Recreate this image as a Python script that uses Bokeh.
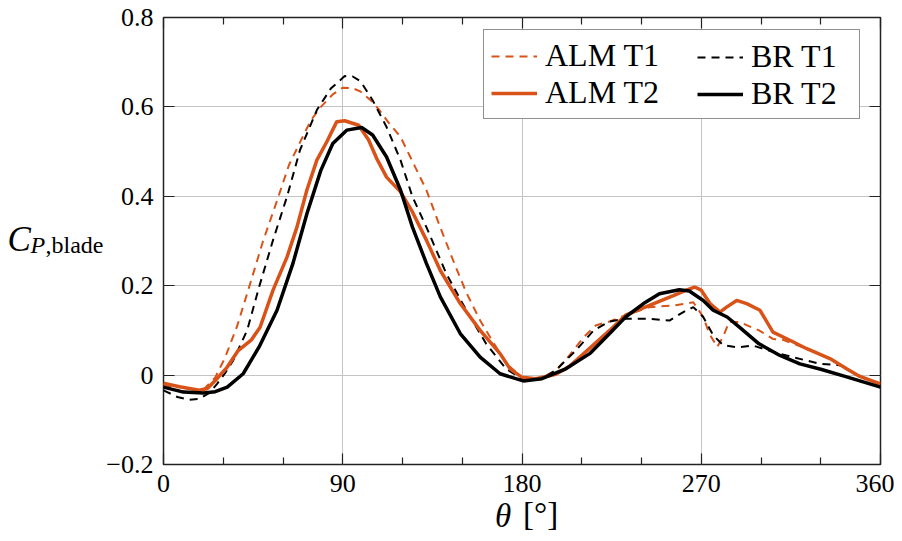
from bokeh.plotting import figure
from bokeh.models import FixedTicker, LinearAxis, Label, Legend, LegendItem, Range1d
from bokeh.embed import file_html
from bokeh.resources import INLINE

# ---------------- data ----------------
alm_t1_theta = [0, 8, 15, 20, 26, 31, 37, 43, 50, 57, 63, 69, 74, 79, 85, 90, 95, 99, 104, 108,
                113, 119, 125, 132, 139, 146, 152, 159, 166, 172, 180, 188, 197, 204, 211, 217,
                224, 232, 244, 257, 266, 271, 274, 278, 281, 284, 289, 299, 306, 311, 323, 334,
                344, 353, 360]
alm_t1 = [-0.020, -0.035, -0.040, -0.033, -0.005, 0.040, 0.110, 0.197, 0.300, 0.390, 0.470,
          0.525, 0.570, 0.600, 0.628, 0.643, 0.642, 0.634, 0.615, 0.595, 0.565, 0.533, 0.478,
          0.414, 0.330, 0.250, 0.185, 0.122, 0.070, 0.026, -0.005, -0.010, 0.010, 0.045, 0.085,
          0.111, 0.120, 0.134, 0.152, 0.156, 0.163, 0.130, 0.093, 0.063, 0.086, 0.119, 0.119,
          0.100, 0.081, 0.079, 0.059, 0.037, 0.010, -0.008, -0.021]

alm_t2_theta = [0, 8, 18, 22, 26, 32, 37.5, 44, 48.5, 55, 62, 67, 72, 77, 82, 87, 91, 98, 103,
                107, 112, 119, 125, 132, 139, 149, 159, 169, 174, 180, 187, 197, 204, 211, 224,
                232, 244, 256, 262.5, 266.7, 270, 274.4, 279.4, 282.7, 287.8, 292.8, 299.5, 306,
                314.5, 323, 334.6, 343, 349.6, 360]
alm_t2 = [-0.018, -0.026, -0.034, -0.030, -0.012, 0.018, 0.055, 0.078, 0.107, 0.190, 0.264,
          0.331, 0.414, 0.481, 0.522, 0.567, 0.569, 0.559, 0.526, 0.485, 0.443, 0.410, 0.365,
          0.302, 0.234, 0.160, 0.100, 0.048, 0.014, -0.005, -0.008, 0.002, 0.020, 0.048, 0.100,
          0.134, 0.156, 0.178, 0.190, 0.197, 0.190, 0.160, 0.141, 0.152, 0.167, 0.160, 0.145,
          0.096, 0.078, 0.059, 0.037, 0.014, -0.003, -0.020]

br_t1_theta = [0, 7, 13, 18, 23, 27, 31, 35, 42, 48, 55, 62, 68.5, 77, 84, 91, 95, 99, 105, 112,
               119, 125, 132, 142, 152, 162, 172, 180, 190, 197, 207, 216, 224, 232, 244, 254,
               261, 266, 271, 276, 281, 288, 296, 306, 316, 330, 340, 348, 360]
br_t1 = [-0.034, -0.049, -0.055, -0.053, -0.040, -0.019, 0.005, 0.033, 0.100, 0.197, 0.302,
         0.399, 0.503, 0.593, 0.641, 0.669, 0.668, 0.657, 0.615, 0.555, 0.481, 0.399, 0.331,
         0.227, 0.145, 0.070, 0.014, -0.008, -0.008, 0.011, 0.055, 0.100, 0.120, 0.126, 0.126,
         0.122, 0.141, 0.152, 0.130, 0.089, 0.067, 0.062, 0.066, 0.052, 0.040, 0.025, 0.022,
         0.000, -0.020]

br_t2_theta = [0, 10, 20, 26, 32, 40, 48, 57, 65, 72, 79, 85, 92, 99.5, 105, 112, 119, 125, 132,
               139, 149, 159, 169, 180.6, 190, 202, 214, 224, 232, 241, 249, 259, 264, 271, 276,
               283, 289, 299, 309.5, 319.5, 330, 343, 360]
br_t2 = [-0.027, -0.038, -0.040, -0.037, -0.027, 0.003, 0.063, 0.145, 0.250, 0.361, 0.458,
         0.518, 0.548, 0.554, 0.537, 0.488, 0.414, 0.331, 0.250, 0.175, 0.093, 0.040, 0.003,
         -0.013, -0.008, 0.014, 0.048, 0.093, 0.130, 0.160, 0.182, 0.191, 0.188, 0.167, 0.145,
         0.130, 0.108, 0.070, 0.044, 0.025, 0.013, -0.004, -0.027]

x_ticks = [0, 90, 180, 270, 360]
x_minor_ticks = [30, 60, 120, 150, 210, 240, 300, 330]
y_ticks = [-0.2, 0.0, 0.2, 0.4, 0.6, 0.8]
y_tick_labels = ["\u22120.2", "0", "0.2", "0.4", "0.6", "0.8"]

series_names = ["ALM T1", "ALM T2", "BR T1", "BR T2"]

# ---------------- style ----------------
ORANGE = "#D95319"
FONT = "Liberation Serif"
TICK_FS = "26px"

p = figure(frame_width=717, frame_height=447,
           min_border_left=163, min_border_right=14, min_border_top=17, min_border_bottom=69,
           x_range=Range1d(0, 360), y_range=Range1d(-0.2, 0.8),
           output_backend="svg", toolbar_location=None)
p.background_fill_color = "white"
p.border_fill_color = "white"
p.outline_line_color = "#222222"
p.outline_line_width = 1.5

xt = FixedTicker(ticks=x_ticks, minor_ticks=x_minor_ticks)
yt = FixedTicker(ticks=y_ticks, minor_ticks=[])

def style_axis(ax, ticker, labels=True):
    ax.ticker = ticker
    ax.axis_line_color = None
    ax.major_tick_in = 11
    ax.major_tick_out = 0
    ax.minor_tick_in = 7
    ax.minor_tick_out = 0
    ax.major_tick_line_color = "#222222"
    ax.minor_tick_line_color = "#222222"
    ax.major_tick_line_width = 1.2
    ax.minor_tick_line_width = 1.2
    if labels:
        ax.major_label_text_font = FONT
        ax.major_label_text_font_size = TICK_FS
        ax.major_label_text_color = "black"
        ax.major_label_standoff = 10
    else:
        ax.major_label_text_font_size = "1px"
        ax.major_label_text_color = None
        ax.major_label_standoff = 0

style_axis(p.xaxis[0], xt)
style_axis(p.yaxis[0], yt)
p.yaxis[0].major_label_overrides = {t: s for t, s in zip(y_ticks, y_tick_labels)}
p.xaxis[0].major_label_overrides = {t: str(t) for t in x_ticks}

top_ax = LinearAxis()
style_axis(top_ax, xt, labels=False)
p.add_layout(top_ax, "above")
right_ax = LinearAxis()
style_axis(right_ax, yt, labels=False)
p.add_layout(right_ax, "right")

p.xgrid.ticker = xt
p.ygrid.ticker = yt
p.xgrid.grid_line_color = "#c4c4c4"
p.ygrid.grid_line_color = "#c4c4c4"
p.xgrid.grid_line_width = 1
p.ygrid.grid_line_width = 1

r_alm1 = p.line(alm_t1_theta, alm_t1, line_color=ORANGE, line_width=2, line_dash="8 6")
r_br1 = p.line(br_t1_theta, br_t1, line_color="black", line_width=2, line_dash="8 6")
r_alm2 = p.line(alm_t2_theta, alm_t2, line_color=ORANGE, line_width=3.5)
r_br2 = p.line(br_t2_theta, br_t2, line_color="black", line_width=3.5)

def make_legend(items, loc, label_width, boxed):
    lg = Legend(items=items, location=loc)
    lg.label_text_font = FONT
    lg.label_text_font_size = "32px"
    lg.label_text_color = "black"
    lg.label_text_line_height = 1.0
    lg.glyph_width = 46
    lg.glyph_height = 20
    lg.label_standoff = 8
    lg.label_width = label_width
    lg.label_height = 30
    lg.padding = 7
    lg.spacing = 0
    lg.margin = 0
    if boxed:
        lg.border_line_color = "#222222"
        lg.border_line_width = 1.5
        lg.background_fill_color = "white"
        lg.background_fill_alpha = 1
    else:
        lg.border_line_color = None
        lg.background_fill_alpha = 0
    return lg

# boxed legend holds the ALM column; the BR column is an unboxed legend laid over it
leg_a = make_legend([LegendItem(label=series_names[0], renderers=[r_alm1]),
                     LegendItem(label=series_names[1], renderers=[r_alm2])],
                    (320, 345), 307, True)
leg_b = make_legend([LegendItem(label=series_names[2], renderers=[r_br1]),
                     LegendItem(label=series_names[3], renderers=[r_br2])],
                    (534, 352), 80, False)
p.add_layout(leg_a, "center")
p.add_layout(leg_b, "center")

# axis labels as text annotations placed in the side panels (not clipped)
def lab(text, size, italic, **kw):
    return Label(text=text, text_font=FONT, text_font_size=size,
                 text_font_style="italic" if italic else "normal",
                 text_baseline="alphabetic", text_align="left", text_color="black", **kw)

p.add_layout(lab(",blade", "24px", False, x=0, y=0.290, x_units="screen", y_units="data"), "left")
p.add_layout(lab("P", "24px", True, x=0, y=0.290, x_units="screen", y_units="data"), "left")
p.add_layout(lab("C", "35px", True, x=0, y=0.303, x_units="screen", y_units="data"), "left")
p.add_layout(lab("\u03b8", "33px", True, x=166.4, y=15, x_units="data", y_units="screen"), "below")
p.add_layout(lab("[\u00b0]", "33px", False, x=180.5, y=53, x_units="data", y_units="screen"), "below")

open("out.html", "w").write(file_html(p, INLINE))
